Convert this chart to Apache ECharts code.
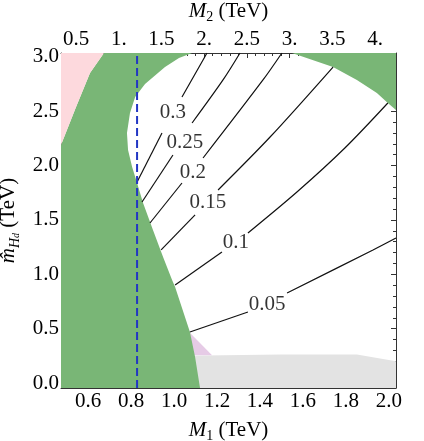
<!DOCTYPE html>
<html>
<head>
<meta charset="utf-8">
<script src="https://cdn.jsdelivr.net/npm/echarts@6/dist/echarts.min.js"></script>
<style>
    html, body { margin: 0; padding: 0; background: #fff; }
    #chart { width: 424px; height: 441px; }
</style>
</head>
<body>
<div id="chart"></div>
<script>
    // axis ranges (TeV)
    var xRange = [0.474, 2.033]
    var yRange = [-0.046, 3.036]
    // top axis: M2 = 0.5 + (M1 - 0.544) * 2.515
    var m2Range = [0.324, 4.245]

    var m1Ticks = [0.6, 0.8, 1.0, 1.2, 1.4, 1.6, 1.8, 2.0]
    var m2Ticks = [0.5, 1, 1.5, 2, 2.5, 3, 3.5, 4]
    var mhTicks = [0, 0.5, 1, 1.5, 2, 2.5, 3]

    // regions, points are [M1, mHd]
    var pinkRegion = [[0.474, 3.036], [0.674, 3.036], [0.609, 2.852], [0.544, 2.539], [0.474, 2.19]]
    var greenRegion = [
        [0.674, 3.036], [1.084, 3.036], [1.023, 2.99], [0.958, 2.907], [0.865, 2.75], [0.819, 2.631],
        [0.795, 2.484], [0.781, 2.30], [0.786, 2.144], [0.805, 1.987], [0.828, 1.84], [0.856, 1.656],
        [0.902, 1.408], [0.949, 1.159], [0.991, 0.948], [1.005, 0.883], [1.074, 0.469], [1.098, 0.239],
        [1.121, -0.046], [0.474, -0.046], [0.474, 2.19], [0.544, 2.539], [0.609, 2.852]
    ]
    var greenCorner = [[1.549, 3.036], [1.74, 2.907], [1.851, 2.788], [1.944, 2.668], [1.995, 2.576], [2.033, 2.511], [2.033, 3.036]]
    var greyRegion = [[1.05, 0.25], [1.5, 0.262], [1.851, 0.262], [2.033, 0.2], [2.033, -0.046], [1.05, -0.046]]
    var lilacRegion = [[1.06, 0.49], [1.177, 0.255], [1.09, 0.255]]

    var blueLineM1 = 0.828

    // contours of constant value, null marks the gap left for the label
    var c030 = [[0.828, 1.849], [0.944, 2.30], null, [1.037, 2.631], [1.135, 2.971], [1.153, 3.036]]
    var c025 = [[0.851, 1.665], [0.995, 2.098], null, [1.084, 2.392], [1.228, 2.788], [1.307, 3.036]]
    var c020 = [[0.888, 1.472], [1.037, 1.84], null, [1.135, 2.07], [1.414, 2.788], [1.502, 3.036]]
    var c015 = [[0.94, 1.224], [1.098, 1.546], null, [1.205, 1.776], [1.447, 2.263], [1.74, 2.907]]
    var c010 = [[1.005, 0.902], [1.223, 1.205], null, [1.344, 1.38], [1.572, 1.757], [1.795, 2.162], [1.995, 2.576]]
    var c005 = [[1.074, 0.469], [1.344, 0.653], null, [1.526, 0.828], [1.926, 1.224], [2.033, 1.334]]
    var contourLabels = [
        [0.995, 2.493, '0.3'], [1.051, 2.217, '0.25'], [1.088, 1.941, '0.2'],
        [1.158, 1.665, '0.15'], [1.288, 1.297, '0.1'], [1.433, 0.718, '0.05']
    ]

    var serif = '"Liberation Serif", "DejaVu Serif", serif'
    var frameColor = '#333'

    function steps(from, to, step) {
        var out = []
        for (var k = Math.round(from / step); k * step <= to + 1e-9; k++) out.push(+(k * step).toFixed(4))
        return out
    }

    var nameRich = {
        i: { fontFamily: serif, fontSize: 21, fontStyle: 'italic', color: '#000', lineHeight: 26 },
        s: { fontFamily: serif, fontSize: 14, color: '#000', verticalAlign: 'bottom', lineHeight: 12 },
        ss: { fontFamily: serif, fontSize: 10, fontStyle: 'italic', color: '#000', verticalAlign: 'bottom', lineHeight: 6 },
        si: { fontFamily: serif, fontSize: 14, fontStyle: 'italic', color: '#000', verticalAlign: 'bottom', lineHeight: 12 },
        n: { fontFamily: serif, fontSize: 21, color: '#000', lineHeight: 26 }
    }

    function mainAxis(range, pos, ticks, fmt, name, nameGap, margin) {
        return {
            type: 'value', position: pos, min: range[0], max: range[1],
            axisLine: { show: true, onZero: false, lineStyle: { color: frameColor, width: 1 } },
            axisTick: { show: true, inside: true, length: 5, customValues: ticks, lineStyle: { color: frameColor } },
            axisLabel: {
                show: !!fmt, customValues: ticks, formatter: fmt, margin: margin,
                fontFamily: serif, fontSize: 21, color: '#000'
            },
            splitLine: { show: false },
            name: name || '', nameLocation: 'middle', nameGap: nameGap,
            nameTextStyle: { rich: nameRich }
        }
    }

    function minorAxis(range, pos, ticks) {
        return {
            type: 'value', position: pos, min: range[0], max: range[1],
            axisLine: { show: false, onZero: false },
            axisTick: { show: true, inside: true, length: 3, customValues: ticks, lineStyle: { color: frameColor } },
            axisLabel: { show: false },
            splitLine: { show: false }
        }
    }

    var fmt1 = function (v) { return v.toFixed(1) }
    var fmtM2 = function (v) { return Number.isInteger(v) ? v + '.' : String(v) }

    function polygon(points, color) {
        return {
            type: 'custom', xAxisIndex: 0, yAxisIndex: 0, z: 1, silent: true, clip: true,
            data: [points[0]],
            renderItem: function (params, api) {
                return {
                    type: 'polygon',
                    shape: { points: points.map(function (p) { return api.coord(p) }) },
                    style: { fill: color, stroke: null }
                }
            }
        }
    }

    var series = [
        polygon(greyRegion, '#e3e3e3'),
        polygon(lilacRegion, '#e6cbe6'),
        polygon(greenRegion, '#79b676'),
        polygon(greenCorner, '#79b676'),
        polygon(pinkRegion, '#fdd9dd')
    ]

    ;[c030, c025, c020, c015, c010, c005].forEach(function (c) {
        var seg = []
        c.concat([null]).forEach(function (p) {
            if (p) { seg.push(p); return }
            series.push({
                type: 'line', xAxisIndex: 0, yAxisIndex: 0, z: 3, silent: true,
                data: seg, smooth: 0.3, showSymbol: false, symbol: 'none',
                lineStyle: { color: '#111', width: 1.2 }
            })
            seg = []
        })
    })

    series.push({
        type: 'line', xAxisIndex: 0, yAxisIndex: 0, z: 3, silent: true, symbol: 'none',
        data: [[blueLineM1, yRange[0]], [blueLineM1, yRange[1]]],
        lineStyle: { color: '#2236c4', width: 2, type: [8, 4] }
    })

    series.push({
        type: 'scatter', xAxisIndex: 0, yAxisIndex: 0, z: 4, silent: true,
        symbolSize: 0, data: contourLabels,
        label: {
            show: true, position: 'inside', formatter: function (p) { return p.value[2] },
            fontFamily: serif, fontSize: 21, color: '#000'
        }
    })

    var chart = echarts.init(document.getElementById('chart'))
    chart.setOption({
        animation: false,
        backgroundColor: '#fff',
        grid: { left: 61, top: 53, width: 335, height: 335, outerBoundsMode: 'none', containLabel: false },
        xAxis: [
            mainAxis(xRange, 'bottom', m1Ticks, fmt1, '{i|M}{s|1}{n| (TeV)}', 29, 3),
            minorAxis(xRange, 'bottom', steps(0.48, 2.03, 0.04)),
            mainAxis(m2Range, 'top', m2Ticks, fmtM2, '{i|M}{s|2}{n| (TeV)}', 28, 3),
            minorAxis(m2Range, 'top', steps(0.4, 4.2, 0.1))
        ],
        yAxis: [
            mainAxis(yRange, 'left', mhTicks, fmt1, '{i|m\u0302}{si|H}{ss|d}{n| (TeV)}', 31, 2),
            minorAxis(yRange, 'left', steps(0, 3.0, 0.1)),
            mainAxis(yRange, 'right', mhTicks, null, '', 0, 2),
            minorAxis(yRange, 'right', steps(0, 3.0, 0.1))
        ],
        series: series
    })
</script>
</body>
</html>
